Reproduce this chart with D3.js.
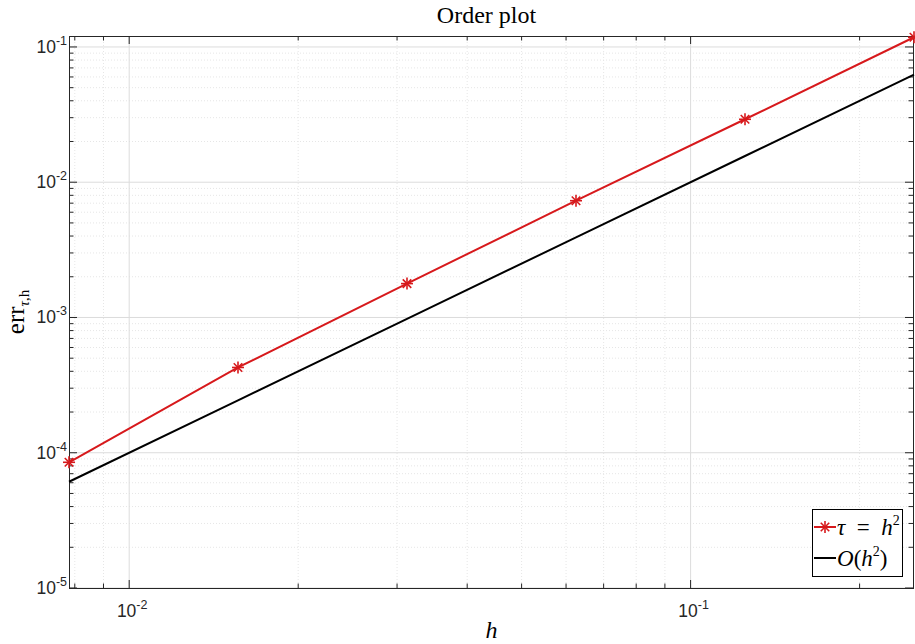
<!DOCTYPE html>
<html>
<head>
<meta charset="utf-8">
<script src="https://cdn.jsdelivr.net/npm/d3@7"></script>
<style>
  body { margin: 0; background: #fff; }
  text { font-family: "Liberation Sans", Arial, sans-serif; }
  .serif { font-family: "Liberation Serif", "DejaVu Serif", serif; }
</style>
</head>
<body>
<div id="chart"></div>
<script>
// data
const hValues = [1/128, 1/64, 1/32, 1/16, 1/8, 1/4];
const errValues = [8.5e-5, 4.27e-4, 1.78e-3, 7.3e-3, 2.92e-2, 0.118];
const refValues = [6.1e-5, 2.44e-4, 9.77e-4, 3.91e-3, 1.5625e-2, 6.25e-2];
const xTicks = [1e-2, 1e-1];
const yTicks = [1e-5, 1e-4, 1e-3, 1e-2, 1e-1];

const W = 915, H = 644;
const margin = {top: 36, right: 1, bottom: 56, left: 69};
const width = W - margin.left - margin.right;
const height = H - margin.top - margin.bottom;

const svg = d3.select("#chart").append("svg")
    .attr("width", W)
    .attr("height", H);

const x = d3.scaleLog().domain([1/128, 1/4]).range([0, width]);
const y = d3.scaleLog().domain([1e-5, 0.1205]).range([height, 0]);

const g = svg.append("g")
    .attr("transform", "translate(" + margin.left + "," + margin.top + ")");

// minor values
function minors(lo, hi) {
    let out = [];
    for (let e = -6; e <= 0; e++) {
        for (let k = 1; k <= 9; k++) {
            let v = k * Math.pow(10, e);
            if (v >= lo * 0.9999 && v <= hi * 1.0001) out.push({v: v, major: k === 1});
        }
    }
    return out;
}
const xm = minors(1/128, 1/4);
const ym = minors(1e-5, 0.1205);

// grid
g.append("g").selectAll("line").data(xm.filter(d => !d.major)).join("line")
    .attr("x1", d => x(d.v)).attr("x2", d => x(d.v))
    .attr("y1", 0).attr("y2", height)
    .attr("stroke", "#e6e6e6").attr("stroke-dasharray", "1,2");
g.append("g").selectAll("line").data(ym.filter(d => !d.major)).join("line")
    .attr("y1", d => y(d.v)).attr("y2", d => y(d.v))
    .attr("x1", 0).attr("x2", width)
    .attr("stroke", "#e6e6e6").attr("stroke-dasharray", "1,2");
g.append("g").selectAll("line").data(xTicks).join("line")
    .attr("x1", d => x(d)).attr("x2", d => x(d))
    .attr("y1", 0).attr("y2", height)
    .attr("stroke", "#dcdcdc");
g.append("g").selectAll("line").data(yTicks).join("line")
    .attr("y1", d => y(d)).attr("y2", d => y(d))
    .attr("x1", 0).attr("x2", width)
    .attr("stroke", "#dcdcdc");

// axes box and ticks
const axisCol = "#262626";
g.append("rect")
    .attr("x", 0.5).attr("y", 0.5)
    .attr("width", width - 1).attr("height", height)
    .attr("fill", "none").attr("stroke", axisCol).attr("stroke-width", 1);

const tk = g.append("g").attr("stroke", axisCol);
xm.forEach(d => {
    let L = d.major ? 8 : 4.5;
    let px = x(d.v);
    tk.append("line").attr("x1", px).attr("x2", px).attr("y1", height).attr("y2", height - L);
    tk.append("line").attr("x1", px).attr("x2", px).attr("y1", 0).attr("y2", L);
});
ym.forEach(d => {
    let L = d.major ? 8 : 4.5;
    let py = y(d.v);
    tk.append("line").attr("x1", 0).attr("x2", L).attr("y1", py).attr("y2", py);
    tk.append("line").attr("x1", width - 1).attr("x2", width - 1 - L).attr("y1", py).attr("y2", py);
});

// tick labels
function powLabel(sel, v) {
    let e = Math.round(Math.log10(v));
    sel.append("tspan").text("10");
    sel.append("tspan").attr("dy", -8).attr("font-size", 12.5).text(e);
}
g.append("g").selectAll("text").data(yTicks).join("text")
    .attr("x", -2).attr("y", d => y(d) + 6)
    .attr("text-anchor", "end").attr("font-size", 17.5).attr("fill", axisCol)
    .each(function(d) { powLabel(d3.select(this), d); });
g.append("g").selectAll("text").data(xTicks).join("text")
    .attr("x", d => x(d) + 3).attr("y", height + 29)
    .attr("text-anchor", "middle").attr("font-size", 17.5).attr("fill", axisCol)
    .each(function(d) { powLabel(d3.select(this), d); });

// lines
const line = d3.line().x(d => x(d[0])).y(d => y(d[1]));
g.append("path")
    .datum(hValues.map((h, i) => [h, refValues[i]]))
    .attr("d", line).attr("fill", "none").attr("stroke", "#000").attr("stroke-width", 2);
g.append("path")
    .datum(hValues.map((h, i) => [h, errValues[i]]))
    .attr("d", line).attr("fill", "none").attr("stroke", "#d7191c").attr("stroke-width", 2);

function star(sel, cx, cy, r) {
    const s = sel.append("g").attr("stroke", "#d7191c").attr("stroke-width", 1.6);
    [0, 45, 90, 135].forEach(a => {
        const rad = a * Math.PI / 180;
        s.append("line")
            .attr("x1", cx - r * Math.cos(rad)).attr("x2", cx + r * Math.cos(rad))
            .attr("y1", cy - r * Math.sin(rad)).attr("y2", cy + r * Math.sin(rad));
    });
}
hValues.forEach((h, i) => star(g, x(h), y(errValues[i]), 6));

// title and axis labels
svg.append("text").attr("class", "serif")
    .attr("x", margin.left + width / 2 - 5).attr("y", 23)
    .attr("text-anchor", "middle").attr("font-size", 24).attr("fill", "#000")
    .text("Order plot");
svg.append("text").attr("class", "serif")
    .attr("x", margin.left + width / 2).attr("y", 638)
    .attr("text-anchor", "middle").attr("font-size", 24).attr("font-style", "italic")
    .text("h");
const yl = svg.append("text").attr("class", "serif")
    .attr("transform", "translate(24," + (margin.top + height / 2) + ") rotate(-90)")
    .attr("text-anchor", "middle").attr("font-size", 25);
yl.append("tspan").text("err");
yl.append("tspan").attr("dy", 5).attr("font-size", 15).attr("font-style", "italic").text("τ");
yl.append("tspan").attr("font-size", 15).text(",h");

// legend
const lg = svg.append("g").attr("transform", "translate(812,509)");
lg.append("rect").attr("x", 0.5).attr("y", 0.5).attr("width", 90).attr("height", 67)
    .attr("fill", "#fff").attr("stroke", "#000");
lg.append("line").attr("x1", 2).attr("x2", 24).attr("y1", 18).attr("y2", 18)
    .attr("stroke", "#d7191c").attr("stroke-width", 2);
star(lg, 13, 18, 6);
lg.append("line").attr("x1", 2).attr("x2", 24).attr("y1", 49).attr("y2", 49)
    .attr("stroke", "#000").attr("stroke-width", 2);
const t1 = lg.append("text").attr("class", "serif").attr("x", 25).attr("y", 26)
    .attr("font-size", 23).attr("xml:space", "preserve");
t1.append("tspan").attr("font-style", "italic").text("τ");
t1.append("tspan").text("  =  ");
t1.append("tspan").attr("font-style", "italic").text("h");
t1.append("tspan").attr("dy", -10).attr("font-size", 14).text("2");
const t2 = lg.append("text").attr("class", "serif").attr("x", 25).attr("y", 57)
    .attr("font-size", 23);
t2.append("tspan").attr("font-style", "italic").text("O");
t2.append("tspan").text("(");
t2.append("tspan").attr("font-style", "italic").text("h");
t2.append("tspan").attr("dy", -10).attr("font-size", 14).text("2");
t2.append("tspan").attr("dy", 10).text(")");
</script>
</body>
</html>
